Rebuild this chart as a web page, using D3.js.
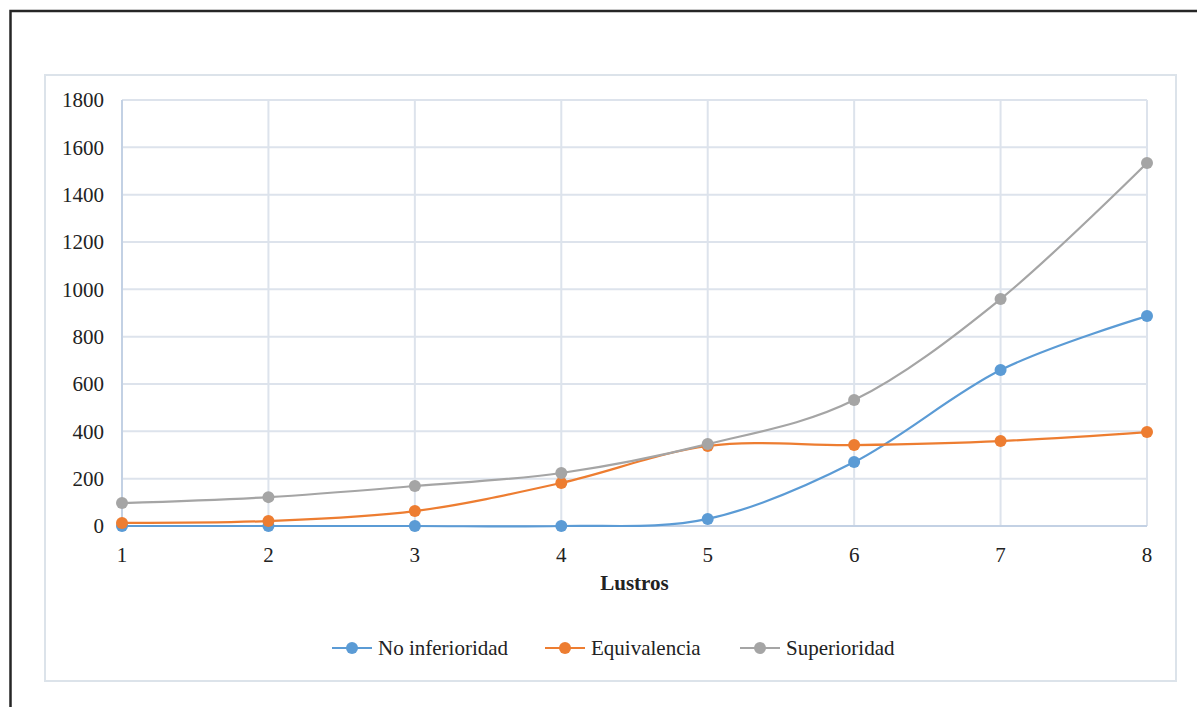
<!DOCTYPE html>
<html>
<head>
<meta charset="utf-8">
<script src="https://cdn.jsdelivr.net/npm/d3@7"></script>
<style>
  body { margin: 0; background: #fff; }
  svg { display: block; font-family: "Liberation Serif", "Times New Roman", serif; }
</style>
</head>
<body>
<svg id="chart" width="1197" height="707"></svg>
<script>
// data
var lustros = [1, 2, 3, 4, 5, 6, 7, 8];
var noInferioridad = [0, 0, 0, 0, 30, 270, 659, 887];
var equivalencia = [13, 21, 63, 182, 338, 342, 359, 397];
var superioridad = [97, 122, 169, 224, 346, 532, 959, 1534];
var yTicks = [0, 200, 400, 600, 800, 1000, 1200, 1400, 1600, 1800];

var seriesNames = ["No inferioridad", "Equivalencia", "Superioridad"];
var seriesColors = ["#5b9bd5", "#ed7d31", "#a5a5a5"];
var series = [noInferioridad, equivalencia, superioridad];

var svg = d3.select("#chart");

// outer frame (only the left and top edges show)
svg.append("rect")
    .attr("x", 10.5).attr("y", 11)
    .attr("width", 1300).attr("height", 800)
    .attr("fill", "none")
    .attr("stroke", "#262626")
    .attr("stroke-width", 2.5);

// chart area border
svg.append("rect")
    .attr("x", 45).attr("y", 75)
    .attr("width", 1131).attr("height", 606)
    .attr("fill", "#fff")
    .attr("stroke", "#dce3ea")
    .attr("stroke-width", 2);

// plot area bounds
var plot = {left: 122, right: 1147, top: 100, bottom: 526};

var x = d3.scalePoint()
    .domain(lustros)
    .range([plot.left, plot.right]);

var y = d3.scaleLinear()
    .domain([0, 1800])
    .range([plot.bottom, plot.top]);

// horizontal gridlines
svg.append("g")
    .selectAll("line")
    .data(yTicks)
    .enter().append("line")
    .attr("x1", plot.left).attr("x2", plot.right)
    .attr("y1", d => y(d)).attr("y2", d => y(d))
    .attr("stroke", "#dde3ec")
    .attr("stroke-width", 2);

// vertical gridlines
svg.append("g")
    .selectAll("line")
    .data(lustros)
    .enter().append("line")
    .attr("x1", d => x(d)).attr("x2", d => x(d))
    .attr("y1", plot.top).attr("y2", plot.bottom)
    .attr("stroke", "#dde3ec")
    .attr("stroke-width", 2);

// axis lines
svg.append("line")
    .attr("x1", plot.left).attr("x2", plot.left)
    .attr("y1", plot.top).attr("y2", plot.bottom)
    .attr("stroke", "#c3d1e4").attr("stroke-width", 2);
svg.append("line")
    .attr("x1", plot.left).attr("x2", plot.right)
    .attr("y1", plot.bottom).attr("y2", plot.bottom)
    .attr("stroke", "#c3d1e4").attr("stroke-width", 2);

// y tick labels
svg.append("g")
    .selectAll("text")
    .data(yTicks)
    .enter().append("text")
    .attr("x", 104)
    .attr("y", d => y(d))
    .attr("dy", "0.35em")
    .attr("text-anchor", "end")
    .style("font-size", "21px")
    .attr("fill", "#222")
    .text(d => d);

// x tick labels
svg.append("g")
    .selectAll("text")
    .data(lustros)
    .enter().append("text")
    .attr("x", d => x(d))
    .attr("y", 562)
    .attr("text-anchor", "middle")
    .style("font-size", "21px")
    .attr("fill", "#222")
    .text(d => d);

// x axis title
svg.append("text")
    .attr("x", (plot.left + plot.right) / 2)
    .attr("y", 590)
    .attr("text-anchor", "middle")
    .style("font-size", "21px")
    .style("font-weight", "bold")
    .attr("fill", "#222")
    .text("Lustros");

// smoothed lines with markers
var line = d3.line()
    .x((d, i) => x(lustros[i]))
    .y(d => y(d))
    .curve(d3.curveCatmullRom.alpha(0));

series.forEach(function(values, s) {
    svg.append("path")
        .datum(values)
        .attr("d", line)
        .attr("fill", "none")
        .attr("stroke", seriesColors[s])
        .attr("stroke-width", 2.2);
});

series.forEach(function(values, s) {
    svg.append("g")
        .selectAll("circle")
        .data(values)
        .enter().append("circle")
        .attr("cx", (d, i) => x(lustros[i]))
        .attr("cy", d => y(d))
        .attr("r", 6)
        .attr("fill", seriesColors[s]);
});

// legend
var legendX = [332, 545, 740];
var legend = svg.append("g");
seriesNames.forEach(function(name, s) {
    var g = legend.append("g")
        .attr("transform", "translate(" + legendX[s] + ",648)");
    g.append("line")
        .attr("x1", 0).attr("x2", 40)
        .attr("stroke", seriesColors[s])
        .attr("stroke-width", 2.2);
    g.append("circle")
        .attr("cx", 20).attr("r", 6)
        .attr("fill", seriesColors[s]);
    g.append("text")
        .attr("x", 46)
        .attr("dy", "0.35em")
        .style("font-size", "21px")
        .attr("fill", "#222")
        .text(name);
});
</script>
</body>
</html>
